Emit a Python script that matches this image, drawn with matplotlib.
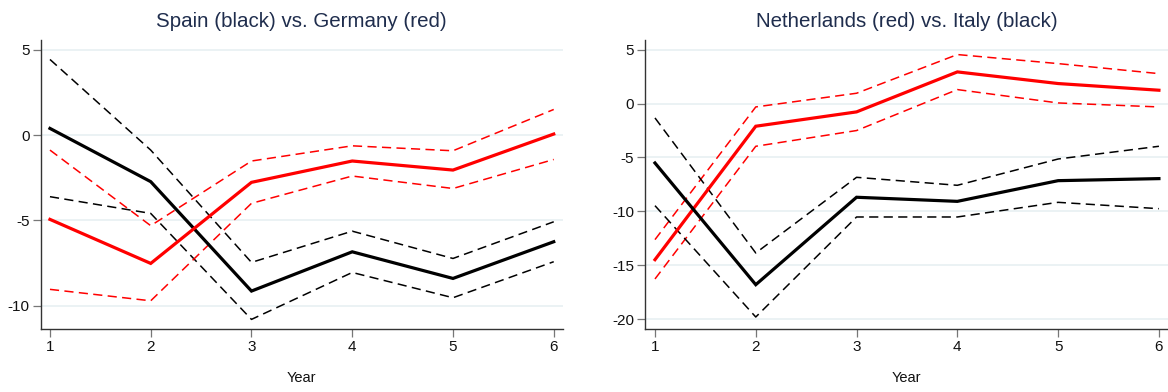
import matplotlib
matplotlib.use("Agg")
import matplotlib.pyplot as plt

plt.rcParams['font.family'] = ['Liberation Sans', 'DejaVu Sans']

years = [1, 2, 3, 4, 5, 6]

# Left panel: Spain (black) vs. Germany (red)
spain = [0.39, -2.73, -9.14, -6.84, -8.40, -6.25]
spain_hi = [4.43, -0.88, -7.46, -5.63, -7.23, -5.08]
spain_lo = [-3.61, -4.59, -10.80, -8.05, -9.53, -7.42]
germany = [-4.94, -7.52, -2.77, -1.52, -2.05, 0.06]
germany_hi = [-0.88, -5.31, -1.52, -0.63, -0.92, 1.50]
germany_lo = [-9.04, -9.71, -4.00, -2.40, -3.13, -1.43]

# Right panel: Netherlands (red) vs. Italy (black)
nl = [-14.48, -2.10, -0.77, 2.94, 1.86, 1.24]
nl_hi = [-12.62, -0.31, 0.96, 4.55, 3.71, 2.78]
nl_lo = [-16.27, -3.96, -2.50, 1.30, 0.06, -0.31]
italy = [-5.51, -16.80, -8.69, -9.07, -7.15, -6.96]
italy_hi = [-1.33, -13.86, -6.84, -7.58, -5.14, -3.96]
italy_lo = [-9.47, -19.80, -10.52, -10.52, -9.16, -9.75]

left_yticks = [5, 0, -5, -10]
right_yticks = [5, 0, -5, -10, -15, -20]

fig = plt.figure(figsize=(11.68, 3.92), dpi=100)
ax1 = fig.add_axes([40.7/1168, 1-329.3/392, 522/1168, 289.3/392])
ax2 = fig.add_axes([645.3/1168, 1-329.3/392, 522.7/1168, 289.3/392])

title_color = '#1f2d4d'
grid_color = '#e8f0f2'

def style(ax, yticks, ylim, xlim, title):
    ax.set_xlim(*xlim)
    ax.set_ylim(*ylim)
    ax.set_yticks(yticks)
    ax.set_yticklabels([str(t) for t in yticks])
    ax.set_xticks(years)
    for t in yticks:
        ax.axhline(t, color=grid_color, lw=1.2, zorder=0)
    for s in ['top', 'right']:
        ax.spines[s].set_visible(False)
    for s in ['left', 'bottom']:
        ax.spines[s].set_color('#333333')
        ax.spines[s].set_linewidth(1.0)
    ax.tick_params(axis='both', direction='out', length=6, width=0.9,
                   color='#777777', labelsize=11, labelcolor='#111111', pad=2)
    ax.set_xlabel('Year', fontsize=10.5, color='#111111', labelpad=12)
    ax.set_title(title, fontsize=14.8, color=title_color, pad=9.5)

def draw(ax, mid, hi, lo, color):
    ax.plot(years, mid, color=color, lw=2.3, solid_joinstyle='miter', zorder=3)
    for band in (hi, lo):
        ax.plot(years, band, color=color, lw=1.1, dashes=(6, 3.5), zorder=2)

draw(ax1, spain, spain_hi, spain_lo, 'black')
draw(ax1, germany, germany_hi, germany_lo, '#ff0000')
style(ax1, left_yticks, (-11.38, 5.57), (0.908, 6.089), 'Spain (black) vs. Germany (red)')

draw(ax2, nl, nl_hi, nl_lo, '#ff0000')
draw(ax2, italy, italy_hi, italy_lo, 'black')
style(ax2, right_yticks, (-20.94, 5.9), (0.904, 6.09), 'Netherlands (red) vs. Italy (black)')

fig.savefig('out.png', dpi=100, facecolor='white')
